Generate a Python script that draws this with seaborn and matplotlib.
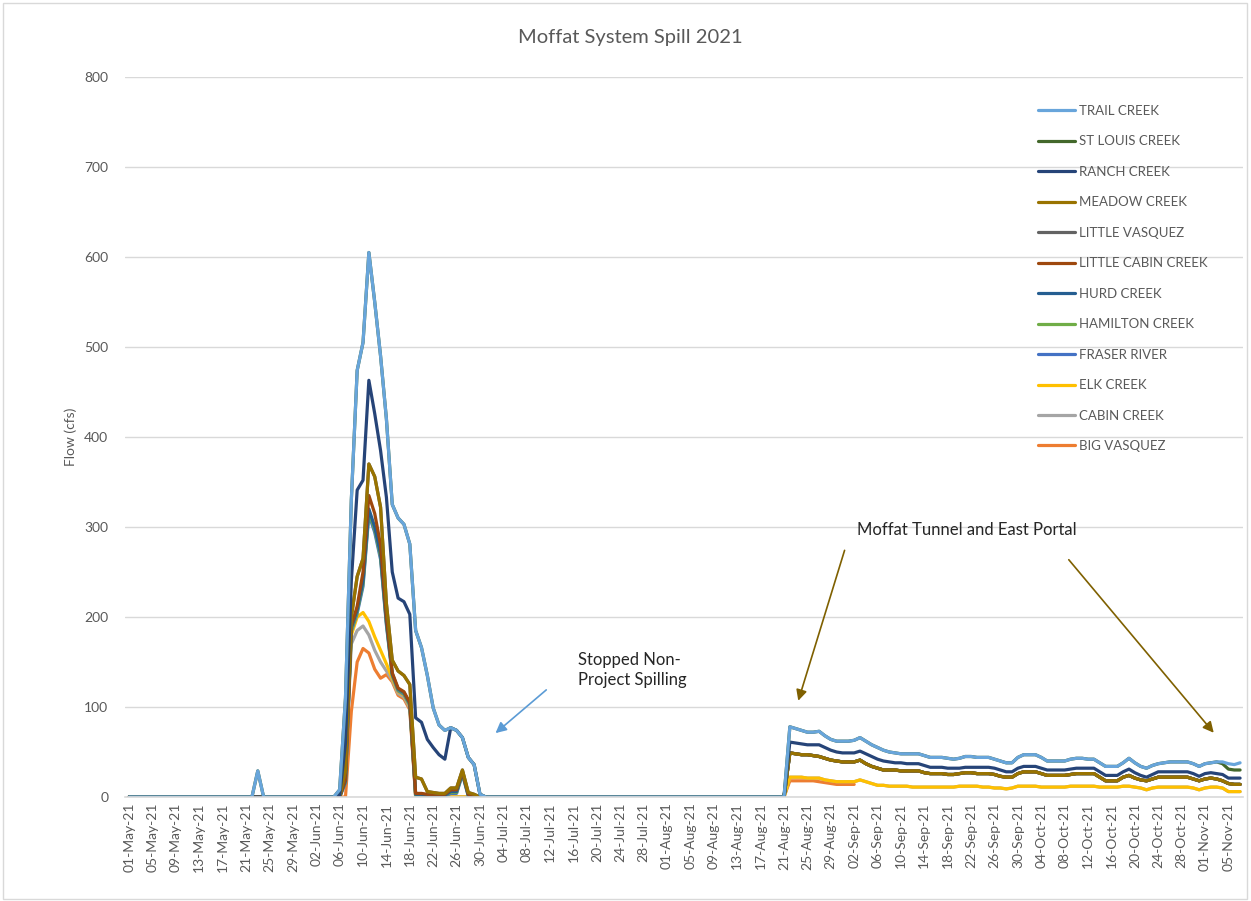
import numpy as np
import pandas as pd
import matplotlib
matplotlib.use("Agg")
import matplotlib.pyplot as plt
import seaborn as sns
from matplotlib.lines import Line2D
from matplotlib.patches import Rectangle

### Moffat System Spill 2021 - stacked flow per creek (levels)

dates = pd.date_range("2021-05-01", "2021-11-07", freq="D")
peak_dates = pd.date_range("2021-06-05", "2021-07-01", freq="D")   # spring spill
fall_dates = pd.date_range("2021-08-21", "2021-11-07", freq="D")   # tunnel / east portal
spike_date = pd.Timestamp("2021-05-23")

## spring peak, 05-Jun .. 01-Jul
trail_pk = [0, 8, 110, 330, 474, 505, 605, 550, 490, 420, 325, 310, 303, 281, 185, 166, 135, 99, 80, 74, 77, 74, 66, 44, 36, 3, 0]
st_louis_pk = [0, 8, 110, 330, 474, 505, 605, 550, 490, 420, 325, 310, 303, 281, 185, 166, 135, 99, 80, 74, 77, 74, 66, 44, 36, 3, 0]
ranch_pk = [0, 2, 60, 240, 341, 352, 463, 426, 385, 333, 250, 221, 217, 203, 88, 83, 64, 55, 47, 42, 77, 74, 66, 44, 36, 3, 0]
meadow_pk = [0, 0, 30, 200, 245, 265, 370, 356, 322, 215, 152, 140, 135, 125, 22, 20, 6, 5, 4, 4, 10, 10, 30, 5, 3, 0, 0]
little_vas_pk = [0, 0, 30, 200, 245, 265, 370, 356, 322, 215, 152, 140, 135, 125, 22, 20, 6, 5, 4, 4, 10, 10, 30, 5, 3, 0, 0]
little_cabin_pk = [0, 0, 20, 190, 212, 250, 335, 315, 280, 200, 138, 121, 117, 105, 4, 4, 3, 3, 3, 3, 8, 8, 28, 3, 2, 0, 0]
hurd_pk = [0, 0, 18, 188, 208, 240, 320, 300, 270, 195, 137, 120, 116, 104, 3, 3, 2, 2, 2, 2, 6, 6, 27, 2, 1, 0, 0]
hamilton_pk = [0, 0, 17, 186, 206, 237, 317, 297, 267, 193, 136, 119, 115, 103, 2, 2, 2, 2, 2, 2, 5, 5, 26, 2, 1, 0, 0]
fraser_pk = [0, 0, 16, 184, 204, 234, 314, 294, 264, 191, 135, 118, 114, 102, 2, 2, 1, 1, 1, 1, 4, 4, 25, 1, 1, 0, 0]
elk_pk = [0, 0, 40, 180, 200, 205, 195, 178, 163, 148, 132, 117, 113, 101, 1, 1, 0, 0, 0, 0, 0, 0, 0, 0, 0, 0, 0]
cabin_pk = [0, 0, 30, 170, 185, 190, 180, 163, 150, 140, 130, 115, 111, 99, 0, 0, 0, 0, 0, 0, 0, 0, 0, 0, 0, 0, 0]
big_vas_pk = [0, 0, 0, 95, 150, 165, 160, 142, 132, 136, 128, 113, 109, 97, 0, 0, 0, 0, 0, 0, 0, 0, 0, 0, 0, 0, 0]

## fall, 21-Aug .. 07-Nov
trail_fall = [0, 78, 76, 74, 72, 72, 73, 68, 64, 62,
              62, 62, 63, 66, 62, 58, 55, 52, 50, 49,
              48, 48, 48, 48, 46, 44, 44, 44, 43, 42,
              43, 45, 45, 44, 44, 44, 42, 40, 38, 38,
              44, 47, 47, 47, 44, 40, 40, 40, 40, 42,
              43, 43, 42, 42, 38, 34, 34, 34, 38, 43,
              38, 34, 32, 35, 37, 38, 39, 39, 39, 39,
              37, 34, 37, 38, 39, 39, 37, 36, 38]
st_louis_fall = [0, 78, 76, 74, 72, 72, 73, 68, 64, 62,
                 62, 62, 63, 66, 62, 58, 55, 52, 50, 49,
                 48, 48, 48, 48, 46, 44, 44, 44, 43, 42,
                 43, 45, 45, 44, 44, 44, 42, 40, 38, 38,
                 44, 47, 47, 47, 44, 40, 40, 40, 40, 42,
                 43, 43, 42, 42, 38, 34, 34, 34, 38, 43,
                 38, 34, 32, 35, 37, 38, 39, 39, 39, 39,
                 37, 34, 37, 38, 39, 37, 31, 30, 30]
ranch_fall = [0, 61, 60, 59, 58, 58, 58, 55, 52, 50,
              49, 49, 49, 51, 48, 45, 42, 40, 39, 38,
              38, 37, 37, 37, 35, 33, 33, 33, 32, 32,
              32, 33, 33, 33, 33, 33, 32, 30, 28, 28,
              32, 34, 34, 34, 32, 30, 30, 30, 30, 31,
              32, 32, 32, 32, 28, 24, 24, 24, 28, 31,
              27, 24, 22, 25, 28, 28, 28, 28, 28, 28,
              26, 23, 26, 27, 26, 25, 21, 21, 21]
meadow_fall = [0, 49, 48, 47, 47, 46, 45, 43, 41, 40,
               39, 39, 39, 41, 37, 34, 32, 30, 30, 30,
               29, 29, 29, 29, 27, 26, 26, 26, 25, 25,
               26, 27, 27, 26, 26, 26, 25, 23, 22, 22,
               26, 28, 28, 28, 26, 24, 24, 24, 24, 25,
               26, 26, 26, 26, 22, 18, 18, 18, 22, 24,
               21, 19, 18, 20, 22, 22, 22, 22, 22, 22,
               20, 18, 20, 21, 20, 18, 15, 14, 14]
elk_fall = [0, 22, 22, 22, 21, 21, 21, 19, 18, 17,
            17, 17, 17, 19, 17, 15, 13, 13, 12, 12,
            12, 12, 11, 11, 11, 11, 11, 11, 11, 11,
            12, 12, 12, 12, 11, 11, 10, 10, 9, 10,
            12, 12, 12, 12, 11, 11, 11, 11, 11, 12,
            12, 12, 12, 12, 11, 11, 11, 11, 12, 12,
            11, 10, 8, 10, 11, 11, 11, 11, 11, 11,
            10, 8, 10, 11, 11, 10, 6, 6, 6]
big_vas_fall = [0, 18, 18, 18, 18, 18, 17, 16, 15, 14, 14, 14, 14]   # gauge blank after 02-Sep
# the remaining creeks sit on top of Meadow / Elk in the fall
little_vas_fall = meadow_fall
little_cabin_fall = meadow_fall
hurd_fall = meadow_fall
hamilton_fall = meadow_fall
fraser_fall = meadow_fall
cabin_fall = elk_fall

trail_spike = 29
st_louis_spike = 29

creeks = ["BIG VASQUEZ", "CABIN CREEK", "ELK CREEK", "FRASER RIVER", "HAMILTON CREEK",
          "HURD CREEK", "LITTLE CABIN CREEK", "LITTLE VASQUEZ", "MEADOW CREEK",
          "RANCH CREEK", "ST LOUIS CREEK", "TRAIL CREEK"]
peak = [big_vas_pk, cabin_pk, elk_pk, fraser_pk, hamilton_pk, hurd_pk, little_cabin_pk,
        little_vas_pk, meadow_pk, ranch_pk, st_louis_pk, trail_pk]
fall = [big_vas_fall, cabin_fall, elk_fall, fraser_fall, hamilton_fall, hurd_fall,
        little_cabin_fall, little_vas_fall, meadow_fall, ranch_fall, st_louis_fall, trail_fall]
spike = [0, 0, 0, 0, 0, 0, 0, 0, 0, 0, st_louis_spike, trail_spike]
colors = ["#ED7D31", "#A5A5A5", "#FFC000", "#4472C4", "#70AD47", "#255E91",
          "#9E480E", "#636363", "#997300", "#264478", "#43682B", "#68A5DB"]

frames = []
for name, pk, fl, sp in zip(creeks, peak, fall, spike):
    s = pd.Series(0.0, index=dates)
    s.loc[peak_dates] = pk
    s.loc[fall_dates] = fl + [np.nan] * (len(fall_dates) - len(fl))
    s.loc[spike_date] = sp
    frames.append(pd.DataFrame({"date": dates, "flow": s.values, "creek": name}))
df = pd.concat(frames, ignore_index=True)

sns.set_theme(style="white")
plt.rcParams["font.family"] = ["Lato", "DejaVu Sans"]
grey = "#595959"

fig = plt.figure(figsize=(12.51, 9.01), dpi=100)
ax = fig.add_axes([125 / 1251, 1 - 797 / 901, 1118 / 1251, 720 / 901])

palette = dict(zip(creeks, colors))
sns.lineplot(data=df, x="date", y="flow", hue="creek", hue_order=creeks, palette=palette,
             estimator=None, linewidth=2.3, legend=False, ax=ax)
for ln in ax.get_lines():
    ln.set_solid_joinstyle("round")

ax.set_xlim(dates[0] - pd.Timedelta(hours=17), dates[-1] + pd.Timedelta(hours=12))
ax.set_ylim(0, 800)
ax.set_yticks(range(0, 801, 100))
ax.yaxis.grid(True, color="#D9D9D9", lw=1)
ax.set_axisbelow(True)
for side in ["left", "right", "top"]:
    ax.spines[side].set_visible(False)
ax.spines["bottom"].set_color("#D9D9D9")
ax.spines["bottom"].set_linewidth(1.2)
ax.set_xticks(dates[::4])
ax.set_xticklabels([d.strftime("%d-%b-%y") for d in dates[::4]], rotation=90)
ax.tick_params(axis="both", length=0, labelsize=10, colors=grey)
ax.tick_params(axis="y", pad=12)
ax.tick_params(axis="x", pad=4)
ax.set_xlabel("")
ax.set_ylabel("Flow (cfs)", fontsize=10, color=grey, labelpad=5)

fig.text(0.504, 1 - 38 / 901, "Moffat System Spill 2021", ha="center", va="center",
         fontsize=14.5, color=grey)

# legend in the reversed (stack) order, like the spreadsheet
handles = [Line2D([0], [0], color=palette[c], lw=2.3) for c in creeks[::-1]]
ax.legend(handles, creeks[::-1], loc="upper left", bbox_to_anchor=(1026 / 1251, 1 - 93 / 901),
          bbox_transform=fig.transFigure, frameon=False, fontsize=9.5, labelspacing=1.40,
          handlelength=2.8, handletextpad=0.3, labelcolor=grey)

day0 = pd.Timestamp("2021-05-01")
def dpos(d):
    return day0 + pd.Timedelta(days=d)

ax.text(dpos(76.8), 141, "Stopped Non-\nProject Spilling", fontsize=12, color="#262626",
        ha="left", va="center", linespacing=1.35)
ax.annotate("", xy=(dpos(62.3), 69), xytext=(dpos(71.7), 121),
            arrowprops=dict(arrowstyle="-|>", color="#5B9BD5", lw=1.2, mutation_scale=16))
ax.text(dpos(124.4), 297, "Moffat Tunnel and East Portal", fontsize=12, color="#262626",
        ha="left", va="center")
ax.annotate("", xy=(dpos(114.3), 104), xytext=(dpos(122.5), 277),
            arrowprops=dict(arrowstyle="-|>", color="#7F6000", lw=1.2, mutation_scale=16))
ax.annotate("", xy=(dpos(185.8), 69), xytext=(dpos(160.4), 266),
            arrowprops=dict(arrowstyle="-|>", color="#7F6000", lw=1.2, mutation_scale=16))

fig.patches.append(Rectangle((0.002, 0.002), 0.995, 0.995, transform=fig.transFigure,
                             fill=False, ec="#D9D9D9", lw=1))

fig.savefig("out.png", dpi=100)
